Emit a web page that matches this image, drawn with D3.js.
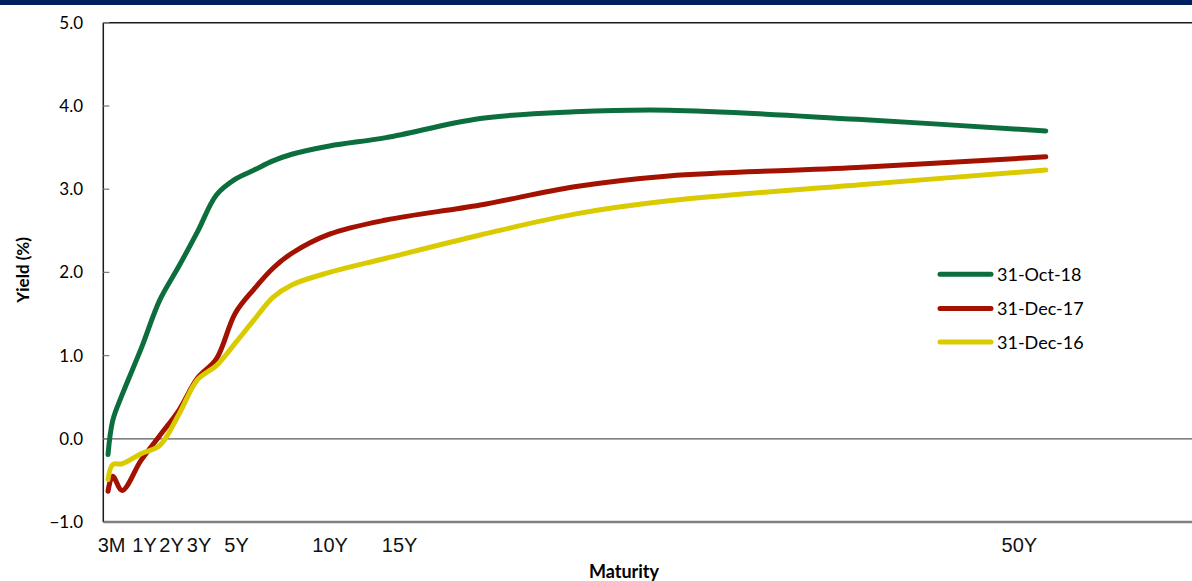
<!DOCTYPE html>
<html>
<head>
<meta charset="utf-8">
<script src="https://cdn.jsdelivr.net/npm/d3@7"></script>
<style>
  html, body { margin: 0; padding: 0; background: #fff; }
  svg { display: block; }
</style>
</head>
<body>
<svg id="chart" width="1192" height="581"></svg>
<script>
// Maturities (years) at which each curve is sampled
const maturities = [0.25, 0.5, 1, 2, 3, 4, 5, 6, 7, 8, 9, 10, 12, 15, 20, 25, 30, 40, 50];

// Yield curves (%), one array per date
const oct18 = [-0.19, 0.22, 0.53, 1.08, 1.67, 2.07, 2.49, 2.93, 3.12, 3.23, 3.34, 3.42, 3.52, 3.62, 3.85, 3.93, 3.95, 3.84, 3.70];
const dec17 = [-0.63, -0.45, -0.62, -0.26, 0.04, 0.34, 0.73, 0.96, 1.51, 1.80, 2.05, 2.23, 2.46, 2.63, 2.81, 3.03, 3.16, 3.26, 3.39];
const dec16 = [-0.49, -0.31, -0.30, -0.18, -0.08, 0.29, 0.71, 0.88, 1.15, 1.43, 1.70, 1.85, 2.00, 2.17, 2.45, 2.70, 2.86, 3.05, 3.23];

const seriesNames = ["31-Oct-18", "31-Dec-17", "31-Dec-16"];
const seriesColors = ["#0b6e3c", "#a31200", "#dacb00"];

// Axis labels
const yTicks = [-1, 0, 1, 2, 3, 4, 5];
const xLabels = ["3M", "1Y", "2Y", "3Y", "5Y", "10Y", "15Y", "50Y"];
const xLabelAt = [0.44, 2.19, 3.62, 5.08, 7.07, 12.03, 15.72, 48.6];

const svg = d3.select("#chart");
const W = 1192, H = 581;

const x = d3.scaleLinear().domain([0, 60]).range([103.3, 1234.3]);
const y = d3.scaleLinear().domain([-1, 5]).range([522, 22.8]);
const left = x(0), right = W;

// Banner strip across the top
svg.append("rect").attr("x", 0).attr("y", 0).attr("width", W).attr("height", 5).attr("fill", "#002060");

// Frame lines
svg.append("line").attr("x1", left).attr("x2", right).attr("y1", y(5)).attr("y2", y(5))
  .attr("stroke", "#1a1a1a").attr("stroke-width", 1.5);
svg.append("line").attr("x1", left).attr("x2", right).attr("y1", y(-1)).attr("y2", y(-1))
  .attr("stroke", "#808080").attr("stroke-width", 2.5);
svg.append("line").attr("x1", left).attr("x2", right).attr("y1", y(0)).attr("y2", y(0))
  .attr("stroke", "#595959").attr("stroke-width", 1.3);
svg.append("line").attr("x1", left).attr("x2", left).attr("y1", y(5)).attr("y2", y(-1))
  .attr("stroke", "#1a1a1a").attr("stroke-width", 1.5);

// Y ticks and labels
const yAxis = svg.append("g");
yAxis.selectAll("line.tick").data(yTicks).join("line")
  .attr("x1", left).attr("x2", left + 6)
  .attr("y1", d => y(d)).attr("y2", d => y(d))
  .attr("stroke", "#7f7f7f").attr("stroke-width", 1.3);
yAxis.selectAll("text").data(yTicks).join("text")
  .attr("x", 83).attr("y", d => y(d) + 6)
  .attr("text-anchor", "end")
  .attr("font-family", "Lato, 'Open Sans', sans-serif")
  .attr("font-size", 17)
  .attr("fill", "#000")
  .text(d3.format(".1f"));

// Y title
svg.append("text")
  .attr("transform", `translate(29, ${y(2.03)}) rotate(-90)`)
  .attr("text-anchor", "middle")
  .attr("font-family", "Lato, 'Open Sans', sans-serif")
  .attr("font-weight", "bold").attr("font-size", 17)
  .attr("fill", "#000")
  .text("Yield (%)");

// X labels
svg.append("g").selectAll("text").data(xLabels).join("text")
  .attr("x", (d, i) => x(xLabelAt[i])).attr("y", 552)
  .attr("text-anchor", "middle")
  .attr("font-family", "'Liberation Sans', Arial, sans-serif")
  .attr("font-size", 20)
  .attr("fill", "#111")
  .text(d => d);

// X title
svg.append("text")
  .attr("x", 624).attr("y", 578)
  .attr("text-anchor", "middle")
  .attr("font-family", "Lato, 'Open Sans', sans-serif")
  .attr("font-weight", "bold").attr("font-size", 18)
  .attr("fill", "#000")
  .text("Maturity");

// Curves
const allSeries = [oct18, dec17, dec16];
const line = d3.line()
  .x((d, i) => x(maturities[i]))
  .y(d => y(d))
  .curve(d3.curveCatmullRom.alpha(0.5));

svg.append("g").selectAll("path").data(allSeries).join("path")
  .attr("d", d => line(d))
  .attr("fill", "none")
  .attr("stroke", (d, i) => seriesColors[i])
  .attr("stroke-width", 5)
  .attr("stroke-linecap", "round")
  .attr("stroke-linejoin", "round");

// Legend
const legend = svg.append("g");
const legendY = [274.3, 308.5, 342];
seriesNames.forEach((name, i) => {
  legend.append("line")
    .attr("x1", 940).attr("x2", 991)
    .attr("y1", legendY[i]).attr("y2", legendY[i])
    .attr("stroke", seriesColors[i]).attr("stroke-width", 5)
    .attr("stroke-linecap", "round");
  legend.append("text")
    .attr("x", 997).attr("y", legendY[i] + 6.5)
    .attr("font-family", "Lato, 'Open Sans', sans-serif")
    .attr("font-size", 18)
    .attr("fill", "#000")
    .text(name);
});
</script>
</body>
</html>
